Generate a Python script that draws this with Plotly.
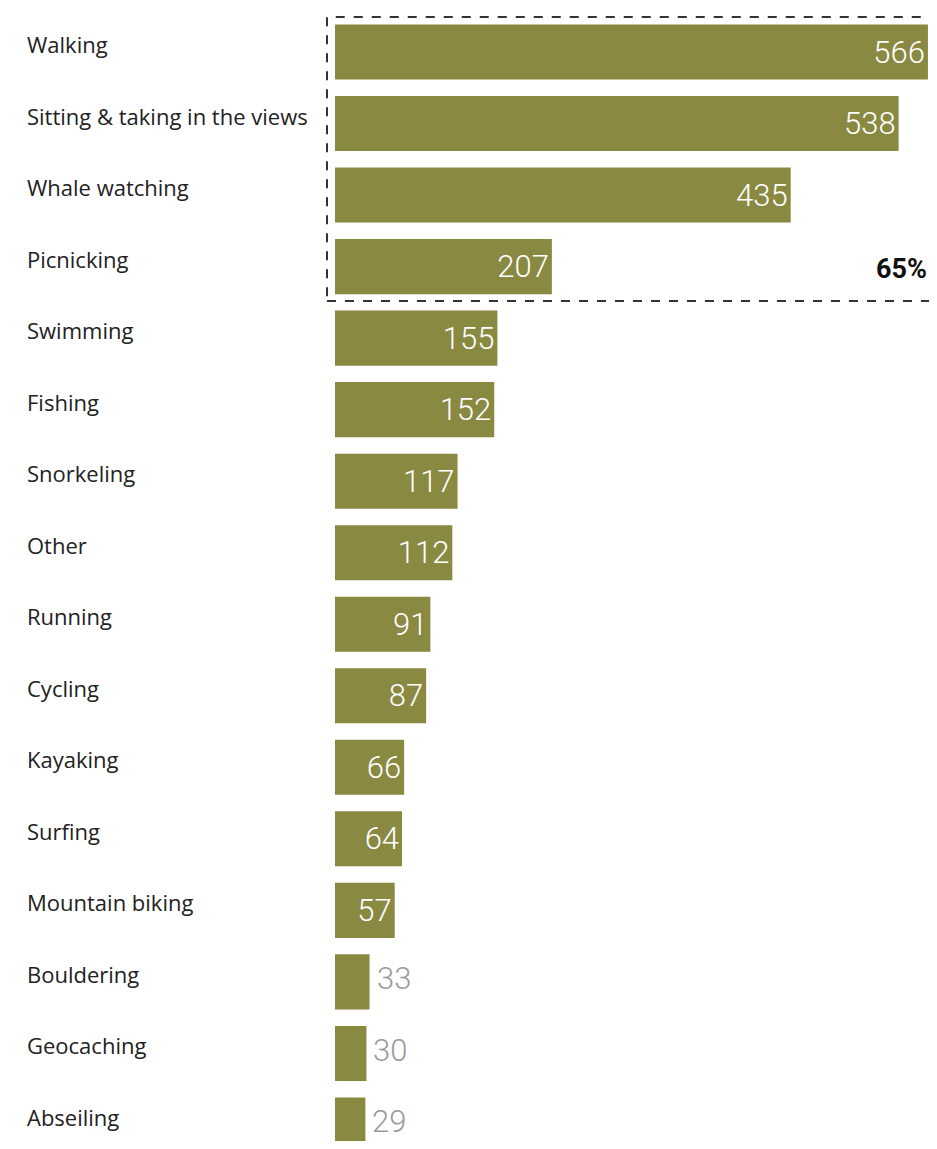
import plotly.graph_objects as go

categories = ["Walking", "Sitting & taking in the views", "Whale watching", "Picnicking",
              "Swimming", "Fishing", "Snorkeling", "Other", "Running", "Cycling",
              "Kayaking", "Surfing", "Mountain biking", "Bouldering", "Geocaching", "Abseiling"]
values = [566, 538, 435, 207, 155, 152, 117, 112, 91, 87, 66, 64, 57, 33, 30, 29]
highlight_label = "65%"
inside_threshold = 50

OFF = 8  # page body margin on each side
W, H = 937 - 2 * OFF, 1149 - 2 * OFF
L = 335 - OFF
plot_w = W - L
px_per_unit = plot_w / 567.0
row_px = 71.53
first_center = 52 - OFF

bar_color = "#8A8942"
inside_text = [str(v) if v >= inside_threshold else "" for v in values]

fig = go.Figure(go.Bar(
    x=values,
    y=categories,
    orientation="h",
    marker=dict(color=bar_color, line=dict(width=0)),
    width=0.77,
    text=inside_text,
    textposition="inside",
    insidetextanchor="end",
    textfont=dict(family="Roboto", size=31, color="#FFFFFF", weight=300),
    constraintext="none",
    cliponaxis=False,
    hoverinfo="skip",
))

y_top = -first_center / row_px
y_bot = (H - first_center) / row_px

annotations = []
for c in categories:
    annotations.append(dict(
        x=(25 - OFF - L) / plot_w, xref="paper", xanchor="left",
        y=c, yref="y", yanchor="middle", yshift=8,
        text=c, showarrow=False,
        font=dict(family="Open Sans", size=22, color="#222222"),
    ))
for c, v in zip(categories, values):
    if v < inside_threshold:
        annotations.append(dict(
            x=v, xref="x", xanchor="left", xshift=5,
            y=c, yref="y", yanchor="middle", yshift=3,
            text=str(v), showarrow=False,
            font=dict(family="Roboto", size=31, color="#9A9A9A", weight=300),
        ))
annotations.append(dict(
    x=1.0, xref="paper", xanchor="right",
    y=3, yref="y", yanchor="middle", yshift=-2,
    text="<b>" + highlight_label + "</b>", showarrow=False,
    font=dict(family="Roboto", size=27, color="#111111"),
))

fig.update_layout(
    width=W, height=H,
    margin=dict(l=L, r=0, t=0, b=0),
    paper_bgcolor="white", plot_bgcolor="white",
    showlegend=False,
    xaxis=dict(range=[0, plot_w / px_per_unit], visible=False, showgrid=False, zeroline=False),
    yaxis=dict(categoryorder="array", categoryarray=categories,
               range=[y_bot, y_top], visible=False, showgrid=False),
    annotations=annotations,
    shapes=[dict(
        type="rect", xref="paper", yref="paper",
        x0=(327 - OFF - L) / plot_w, x1=1.02,
        y0=1 - (301 - OFF) / H, y1=1 - (17 - OFF) / H,
        line=dict(color="#333333", width=2, dash="dash"),
        fillcolor="rgba(0,0,0,0)", layer="above",
    )],
)

fig.write_html("out.html")
